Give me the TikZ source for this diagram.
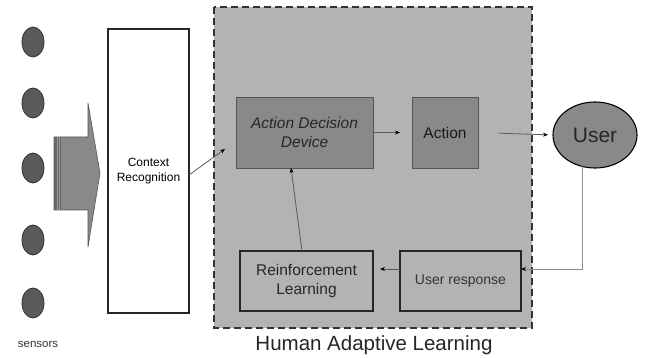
\documentclass[tikz,border=0pt]{standalone}
\usepackage{fontspec}
\setmainfont{Liberation Sans}
\usetikzlibrary{arrows.meta,shapes.geometric,calc}
\definecolor{regionfill}{HTML}{B3B3B3}
\definecolor{boxfill}{HTML}{898989}
\definecolor{boxline}{HTML}{555555}
\definecolor{sensorfill}{HTML}{5A5A5A}
\definecolor{connline}{HTML}{5A5A5A}
\begin{document}
\begin{tikzpicture}[x=1pt,y=-1pt,
  sensor/.style={ellipse,draw=black!80,line width=0.8pt,fill=sensorfill,minimum width=22pt,minimum height=30pt,inner sep=0pt,outer sep=0pt},
  darkbox/.style={rectangle,draw=boxline,line width=0.9pt,fill=boxfill,inner sep=0pt,outer sep=0pt,align=center},
  plainbox/.style={rectangle,draw=black!85,line width=1.1pt,inner sep=0pt,outer sep=0pt,align=center},
  conn/.style={draw=connline,line width=0.8pt,-{Stealth[length=5pt,width=4pt,color=black]}},
  txt/.style={inner sep=0pt,outer sep=0pt}]
\useasboundingbox (0,0) rectangle (645,358);
\fill[white] (0,0) rectangle (645,358);
% region
\draw[fill=regionfill,draw=black!80,line width=2.8pt,dash pattern=on 7pt off 4pt] (214,7) rectangle (532,328);
\node[txt,font=\fontsize{20.5}{24}\selectfont,text=black!85] (hal) at (374,345) {Human Adaptive Learning};
% sensors
\node[sensor] (s1) at (33,42) {};
\node[sensor] (s2) at (33,103) {};
\node[sensor] (s3) at (33,168) {};
\node[sensor] (s4) at (33,240) {};
\node[sensor] (s5) at (33,303) {};
\node[txt,font=\fontsize{11.5}{13}\selectfont,text=black!80] (sl) at (38,344) {sensors};
% big arrow
\draw[fill=boxfill,draw=boxline,line width=0.6pt] (54,137) -- (88,137) -- (88,103) -- (100,173) -- (88,247) -- (88,210) -- (54,210) -- cycle;
\fill[black!60] (54,137) rectangle (61,210);
\draw[black!40,line width=0.5pt] (57,137) -- (57,210) (59.5,137) -- (59.5,210);
% context recognition
\node[plainbox,line width=2pt,fill=white,minimum width=81pt,minimum height=284pt,font=\fontsize{12}{14.5}\selectfont] (cr) at (148.5,171) {Context\\Recognition};
% inner boxes
\node[darkbox,minimum width=137pt,minimum height=71pt,font=\itshape\fontsize{15.5}{19}\selectfont,text=black!85] (add) at (304.5,132.5) {Action Decision\\Device};
\node[darkbox,minimum width=66pt,minimum height=71pt,font=\fontsize{15.5}{19}\selectfont,text=black!90] (act) at (445,132.5) {Action};
\node[ellipse,draw=black,line width=1.1pt,fill=boxfill,minimum width=84pt,minimum height=66pt,inner sep=0pt,outer sep=0pt,font=\fontsize{21}{24}\selectfont,text=black!85] (user) at (595,135) {User};
\node[plainbox,minimum width=133pt,minimum height=60pt,font=\fontsize{15.5}{19}\selectfont,text=black!85] (rl) at (306.5,281) {Reinforcement\\Learning};
\node[plainbox,minimum width=121pt,minimum height=60pt,font=\fontsize{14}{17}\selectfont,text=black!80] (ur) at (460.5,281) {User response};
% connectors
\coordinate (a1) at (225,149);
\draw[conn] (cr.east) ++(0,4) -- (a1);
\draw[conn,shorten >=12pt] (add.east) -- (act.west);
\draw[conn,shorten <=21pt,shorten >=5pt] (act.east) -- (user.west);
\coordinate (ub) at (582,166);
\draw[conn,draw=black!45] (ub) |- (ur.east |- 0,269);
\draw[conn,shorten >=7pt] (ur.west |- 0,269) -- (rl.east |- 0,269);
\draw[conn] ($(rl.north)+(-4.5,0)$) -- ($(add.south)+(-13.5,0)$);
\end{tikzpicture}
\end{document}
